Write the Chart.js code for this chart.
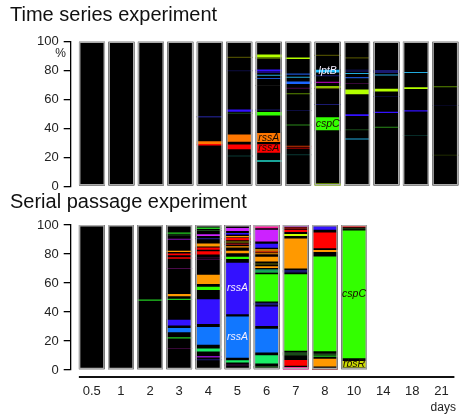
<!DOCTYPE html>
<html><head><meta charset="utf-8">
<script src="https://cdn.jsdelivr.net/npm/chart.js@4.4.1/dist/chart.umd.min.js"></script>
<style>
html,body{margin:0;padding:0;background:#fff;width:462px;height:414px;overflow:hidden;}
canvas{position:absolute;left:0;}
#topChart{top:0;}
#botChart{top:190px;}
</style></head><body>
<canvas id="botChart" width="462" height="224"></canvas>
<canvas id="topChart" width="462" height="199"></canvas>
<script>
// ---- data ----
const days = ['0.5','1','2','3','4','5','6','7','8','10','14','18','21'];
const yTicks = [0, 20, 40, 60, 80, 100];

// colour keys used by the segments
const palette = {
  lime:'#b4ff00', limeDim:'#5a7a00', olive:'#4a4a00', oliveGreen:'#5a8a00', oliveDark:'#2a3a00',
  green:'#33ff00', greenLine:'#22cc22', darkGreen:'#1a4a1a', midGreen:'#2a8a1a', springGreen:'#1aee66',
  seaGreen:'#22cc88', blue:'#3311ff', lightBlue:'#1177ff', brightBlue:'#1a66ff', steelBlue:'#1a50cc',
  navy:'#1a1a70', navyDark:'#0c0c40', cyan:'#22aadd', cyanBright:'#1ec0ff', teal:'#22ddcc',
  darkTeal:'#0a3a35', orangeT:'#ff7700', orange:'#ff9900', red:'#ff0000', darkRed:'#8a1010',
  redOrange:'#cc3300', magenta:'#cc22ff', purple:'#8a10c0', purpleDark:'#4a0a4a', violet:'#a000a0',
  pink:'#ff1aa0', yellowGreen:'#ccff00', rbsYellow:'#ccdd00', nearBlack:'#1a1a1a'
};

// segments per column: [low %, high %, colour key, gene label]
const timeSeriesBars = [
  [], [], [], [],
  [[47.5,48.5,'navy'],[29.2,31,'orangeT'],[28.2,29.2,'red']],
  [[88.6,89.4,'olive'],[79.4,80.2,'navyDark'],[51.5,53,'blue'],[50,50.8,'darkGreen'],
   [30,36.5,'orangeT'],[24.9,29.5,'red'],[20.5,21.2,'darkTeal']],
  [[89.2,91,'lime'],[88,89.2,'limeDim'],[79.6,80.7,'blue'],[78.5,79.3,'blue'],[76.3,77,'cyan'],
   [74,74.8,'steelBlue'],[69.4,70,'nearBlack'],[52.3,53,'navy'],[48.9,51.2,'green'],
   [29.8,37.4,'orangeT','rssA'],[22.4,29.6,'red','rssA'],[16.9,18,'teal']],
  [[87.9,88.9,'lime'],[77.1,77.8,'steelBlue'],[75,75.7,'cyan'],[70.6,72.3,'brightBlue'],
   [67.3,68,'purpleDark'],[63.5,64.3,'oliveGreen'],[52,52.6,'navyDark'],[41.9,42.6,'midGreen'],
   [27.3,28,'redOrange'],[26,26.6,'red'],[21.4,22.1,'darkTeal']],
  [[90,90.8,'olive'],[77.8,81.2,'cyanBright','lptB'],[76,76.6,'navy'],[71.4,72.2,'violet'],
   [68,69,'lime'],[67.2,68,'olive'],[56.2,56.8,'navy'],[37.9,48.4,'green','cspC'],[0,1.8,'lime']],
  [[88.3,89.1,'olive'],[78.9,80.7,'navyDark'],[77.6,78.3,'cyan'],[74.6,75.5,'steelBlue'],
   [70.8,71.4,'purpleDark'],[62.9,67.6,'lime'],[47.9,50.4,'blue'],[38.7,39.4,'darkGreen'],[32.3,33,'cyan']],
  [[78.3,80.3,'navy'],[76.5,77.2,'cyan'],[65.5,67.3,'lime'],[61.7,62.2,'navyDark'],
   [50.6,51.4,'blue'],[40.4,41,'midGreen']],
  [[78.3,79,'cyan'],[66.4,69,'lime'],[51.6,52.5,'blue'],[34.8,35.3,'darkTeal']],
  [[68.4,69,'oliveGreen'],[55.7,56.2,'navyDark'],[21.2,21.7,'oliveDark']]
];

const serialPassageBars = [
  [], [],
  [[47.8,48.6,'greenLine']],
  [[94,94.8,'greenLine'],[92.8,93.4,'darkGreen'],[89.8,90.5,'purple'],[81.3,82.3,'orange'],
   [79.2,80.3,'red'],[76.8,77.7,'red'],[69.7,70.3,'purpleDark'],[50.1,53.1,'orange'],[48.3,49.2,'greenLine'],
   [30,35.4,'blue'],[25.3,29.6,'lightBlue'],[21.8,22.6,'greenLine'],[14.6,15.2,'purpleDark']],
  [[97.3,98.3,'greenLine'],[95.9,96.6,'darkGreen'],[91.8,94.3,'magenta'],[90.2,91,'navy'],
   [85.2,87.3,'orange'],[83,84.5,'red'],[79.7,81.9,'red'],[77,77.6,'purpleDark'],[75.8,76.4,'purpleDark'],
   [58.6,66.3,'orange'],[55.2,57.4,'green'],[31,49.4,'blue'],[16.8,30.4,'lightBlue'],
   [12.8,14.9,'springGreen'],[8.7,9.6,'purple'],[6.8,7.5,'navy']],
  [[99,100,'purpleDark'],[95.2,98.7,'magenta'],[93.4,94.4,'blue'],[91.6,92.4,'orange'],
   [89.4,91.2,'red'],[87.6,89,'olive'],[86.2,87.2,'darkRed'],[84.4,85.4,'orange'],[79.8,83,'orange'],
   [75.8,78.8,'green'],[37.8,74.6,'blue','rssA'],[7.8,37.6,'lightBlue','rssA'],[5.1,6.8,'springGreen'],
   [3.1,3.8,'purpleDark']],
  [[97.8,100,'pink'],[88,97.5,'magenta'],[83.6,87.8,'blue'],[82.3,83.3,'orange'],[81,82,'redOrange'],
   [79.8,80.6,'orange'],[74.2,78.8,'orange'],[72.6,73.6,'olive'],[69.7,72.3,'orange'],
   [68.5,69.3,'seaGreen'],[67.3,68.1,'springGreen'],[46.6,66.8,'green'],[44.6,46.3,'navy'],
   [29.6,44.4,'blue'],[11.4,29.2,'lightBlue'],[3.8,10.8,'springGreen'],[1.6,2.8,'darkGreen']],
  [[98.8,100,'magenta'],[97.3,98.4,'darkRed'],[95.2,96.8,'red'],[91.8,94.5,'yellowGreen'],
   [69.3,91.3,'orange'],[67.3,68.9,'navy'],[12.6,66.8,'green'],[10,12.2,'darkGreen'],
   [2.3,7.6,'red'],[0.4,2,'pink']],
  [[96,99.8,'blue'],[83.2,95.5,'red'],[81.4,82.8,'orange'],[12.2,78.9,'green'],[10.3,11.4,'darkGreen'],
   [9.1,10,'greenLine'],[1.8,8.4,'orange'],[0.4,1.4,'darkRed']],
  [[98.4,99.4,'red'],[97,97.8,'darkGreen'],[7.5,96.9,'green','cspC'],[1,6.9,'rbsYellow','rbsR']],
  null, null, null
];

// ---- chart building ----
const FONT = "'Liberation Sans', Arial, Helvetica, sans-serif";
const X_MIN = -0.723, X_MAX = 12.496;

function buildDatasets(bars) {
  const cols = [];
  bars.forEach((b, i) => { if (Array.isArray(b)) cols.push(i); });
  const maxSeg = Math.max(...bars.map(b => (b ? b.length : 0)));
  const ds = [];
  // grey frame on top
  ds.push({
    data: cols.map(i => ({x: i, y: [0, 100]})),
    backgroundColor: 'rgba(0,0,0,0)', borderColor: '#ababab', borderWidth: 1.5,
    borderSkipped: false, order: 0, grouped: false
  });
  for (let k = 0; k < maxSeg; k++) {
    const idx = [], seg = [];
    bars.forEach((b, i) => { if (b && b[k]) { idx.push(i); seg.push(b[k]); } });
    ds.push({
      data: seg.map((s, n) => ({x: idx[n], y: [s[0], s[1]]})),
      backgroundColor: seg.map(s => palette[s[2]]),
      borderColor: 'rgba(0,0,0,0.75)',
      borderWidth: seg.map(s => (s[1] - s[0] >= 2.5) ? 1 : 0),
      borderSkipped: false, order: 1, grouped: false,
      segLabels: seg.map(s => s[3] || null),
      segColors: seg.map(s => s[2])
    });
  }
  // black column background
  ds.push({
    data: cols.map(i => ({x: i, y: [0, 100]})),
    backgroundColor: '#000000', borderWidth: 0, borderSkipped: false, order: 2, grouped: false
  });
  return ds;
}

const labelPlugin = {
  id: 'segLabels',
  afterDatasetsDraw(chart) {
    const ctx = chart.ctx;
    chart.data.datasets.forEach((d, di) => {
      if (!d.segLabels) return;
      const meta = chart.getDatasetMeta(di);
      d.segLabels.forEach((txt, j) => {
        if (!txt) return;
        const el = meta.data[j];
        const key = d.segColors[j];
        const light = (key === 'blue' || key === 'lightBlue' || key === 'cyanBright');
        ctx.save();
        ctx.font = "italic 10.5px " + FONT;
        ctx.textAlign = 'center';
        ctx.textBaseline = 'middle';
        ctx.fillStyle = light ? '#f4eeff' : '#1a0d00';
        ctx.fillText(txt, el.x, (el.y + el.base) / 2);
        ctx.restore();
      });
    });
  }
};

const percentPlugin = {
  id: 'percentSign',
  afterDraw(chart) {
    const y = chart.scales.y;
    const ctx = chart.ctx;
    ctx.save();
    ctx.font = "12px " + FONT;
    ctx.fillStyle = '#222';
    ctx.textAlign = 'center';
    ctx.textBaseline = 'middle';
    ctx.fillText('%', chart.chartArea.left - 10, y.getPixelForValue(91.3));
    ctx.restore();
  }
};

const baseLinePlugin = {
  id: 'baseLine',
  afterDraw(chart) {
    const x = chart.scales.x, y = chart.scales.y;
    const meta = chart.getDatasetMeta(0);
    const half = meta.data[0].width / 2;
    const ctx = chart.ctx;
    const yy = y.getPixelForValue(0) + 7;
    ctx.save();
    ctx.strokeStyle = '#111';
    ctx.lineWidth = 2;
    ctx.beginPath();
    ctx.moveTo(x.getPixelForValue(0) - half, yy);
    ctx.lineTo(x.getPixelForValue(days.length - 1) + half, yy);
    ctx.stroke();
    ctx.restore();
  }
};

function makeChart(id, title, bars, isBottom) {
  const plugins = [labelPlugin];
  if (isBottom) plugins.push(baseLinePlugin); else plugins.push(percentPlugin);
  const xScale = {
    type: 'linear', min: X_MIN, max: X_MAX, offset: false, display: isBottom,
    afterBuildTicks: s => { s.ticks = days.map((d, i) => ({ value: i })); },
    grid: { display: false, drawTicks: false }, border: { display: false },
    ticks: { autoSkip: false, maxRotation: 0, minRotation: 0, padding: 13.2,
             color: '#222', font: { family: FONT, size: 13 },
             callback: v => days[v] },
    title: { display: isBottom, text: 'days', align: 'end', color: '#222',
             font: { family: FONT, size: 12, lineHeight: 1 }, padding: { top: 3.2, bottom: 0 } }
  };
  if (isBottom) xScale.afterFit = s => { s.height = 44; };
  return new Chart(document.getElementById(id), {
    type: 'bar',
    data: { datasets: buildDatasets(bars) },
    plugins,
    options: {
      responsive: false, animation: false, devicePixelRatio: 1, events: [],
      datasets: { bar: { categoryPercentage: 1, barPercentage: 0.885 } },
      layout: { padding: { left: 10, right: 2, top: 0, bottom: isBottom ? 0 : 8 } },
      plugins: {
        legend: { display: false }, tooltip: { enabled: false },
        title: {
          display: true, text: title, align: 'start', color: '#111',
          font: { family: FONT, size: 20, weight: 'normal' },
          padding: isBottom ? { top: 0, bottom: 11 } : { top: 3, bottom: 14.5 }
        }
      },
      scales: {
        x: xScale,
        y: {
          min: 0, max: 100,
          afterBuildTicks: s => { s.ticks = yTicks.map(v => ({ value: v })); },
          afterFit: s => { s.width = 60.7; },
          grid: { display: true, drawOnChartArea: false, drawTicks: true, tickLength: 7, color: '#000', lineWidth: 1.3 },
          border: { display: true, color: '#000', width: 1.3 },
          ticks: { padding: 5, color: '#222', font: { family: FONT, size: 13 } }
        }
      }
    }
  });
}

makeChart('topChart', 'Time series experiment', timeSeriesBars, false);
makeChart('botChart', 'Serial passage experiment', serialPassageBars, true);
</script>
</body></html>
